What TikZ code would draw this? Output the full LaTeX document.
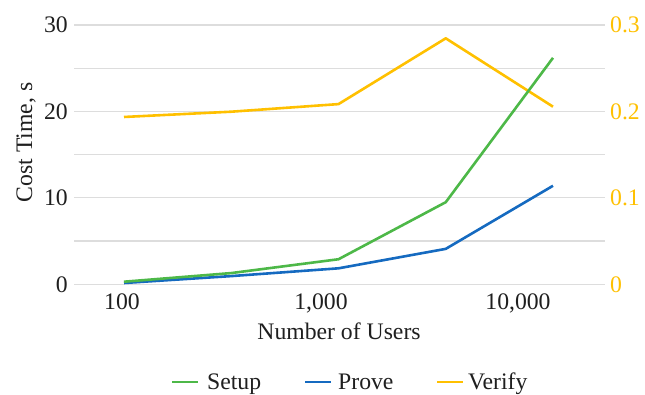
\documentclass[tikz,border=0pt]{standalone}
\usepackage{fontspec}
\setmainfont{Liberation Serif}
\definecolor{setupc}{RGB}{77,184,72}
\definecolor{provec}{RGB}{21,106,192}
\definecolor{verifyc}{RGB}{255,192,0}
\definecolor{gridc}{RGB}{221,221,221}

\begin{document}
\begin{tikzpicture}[x=1pt,y=-1pt,
  gridline/.style={gridc, line width=1.2pt},
  series/.style={line width=2.6pt, line join=round},
  lbl/.style={font=\fontsize{23.7}{24}\selectfont, inner sep=0pt, text=black!88},
  rlbl/.style={lbl, text=verifyc, anchor=west},
  keyline/.style={line width=2.6pt}]
\useasboundingbox (0,0) rectangle (645,394);

% value axis frame: origin at y=284.3, 8.643 units per second
\begin{scope}[shift={(0,284.3)}, yscale=-8.643]
  \foreach \v in {0,5,...,30}
    \draw[gridline] (74,\v) -- (605,\v);

  \foreach \v/\t in {0/0,10/10,20/20,30/30}
    \node[lbl, anchor=east] (yl\v) at (68,\v) {\t};
  \foreach \v/\t in {0/0,10/0.1,20/0.2,30/0.3}
    \node[rlbl] (yr\v) at (610,\v) {\t};

  % Verify (right axis, 0.01 s per unit)
  \draw[series, verifyc] plot coordinates
    {(124,19.36) (231.25,19.97) (338.5,20.85) (445.75,28.46) (553,20.55)};
  % Prove
  \draw[series, provec] plot coordinates
    {(124,0.15) (231.25,0.95) (338.5,1.85) (445.75,4.1) (553,11.4)};
  % Setup
  \draw[series, setupc] plot coordinates
    {(124,0.3) (231.25,1.3) (338.5,2.9) (445.75,9.5) (553,26.2)};
\end{scope}

% category labels
\node[lbl, anchor=base] (x1) at (122,309) {100};
\node[lbl, anchor=base] (x2) at (321,309) {1,000};
\node[lbl, anchor=base] (x3) at (518,309) {10,000};

% axis titles
\node[lbl, anchor=base] (xt) at (339,339) {Number of Users};
\node[lbl, anchor=base, rotate=90] (yt) at (32,142.5) {Cost Time, s};

% legend
\coordinate (k1a) at (172,382); \coordinate (k1b) at (198,382);
\coordinate (k2a) at (305,382); \coordinate (k2b) at (331,382);
\coordinate (k3a) at (437,382); \coordinate (k3b) at (463,382);
\draw[keyline, setupc] (k1a) -- (k1b);
\draw[keyline, provec] (k2a) -- (k2b);
\draw[keyline, verifyc] (k3a) -- (k3b);
\node[lbl, anchor=base west] (l1) at (207,389) {Setup};
\node[lbl, anchor=base west] (l2) at (338,389) {Prove};
\node[lbl, anchor=base west] (l3) at (468,389) {Verify};
\end{tikzpicture}
\end{document}
